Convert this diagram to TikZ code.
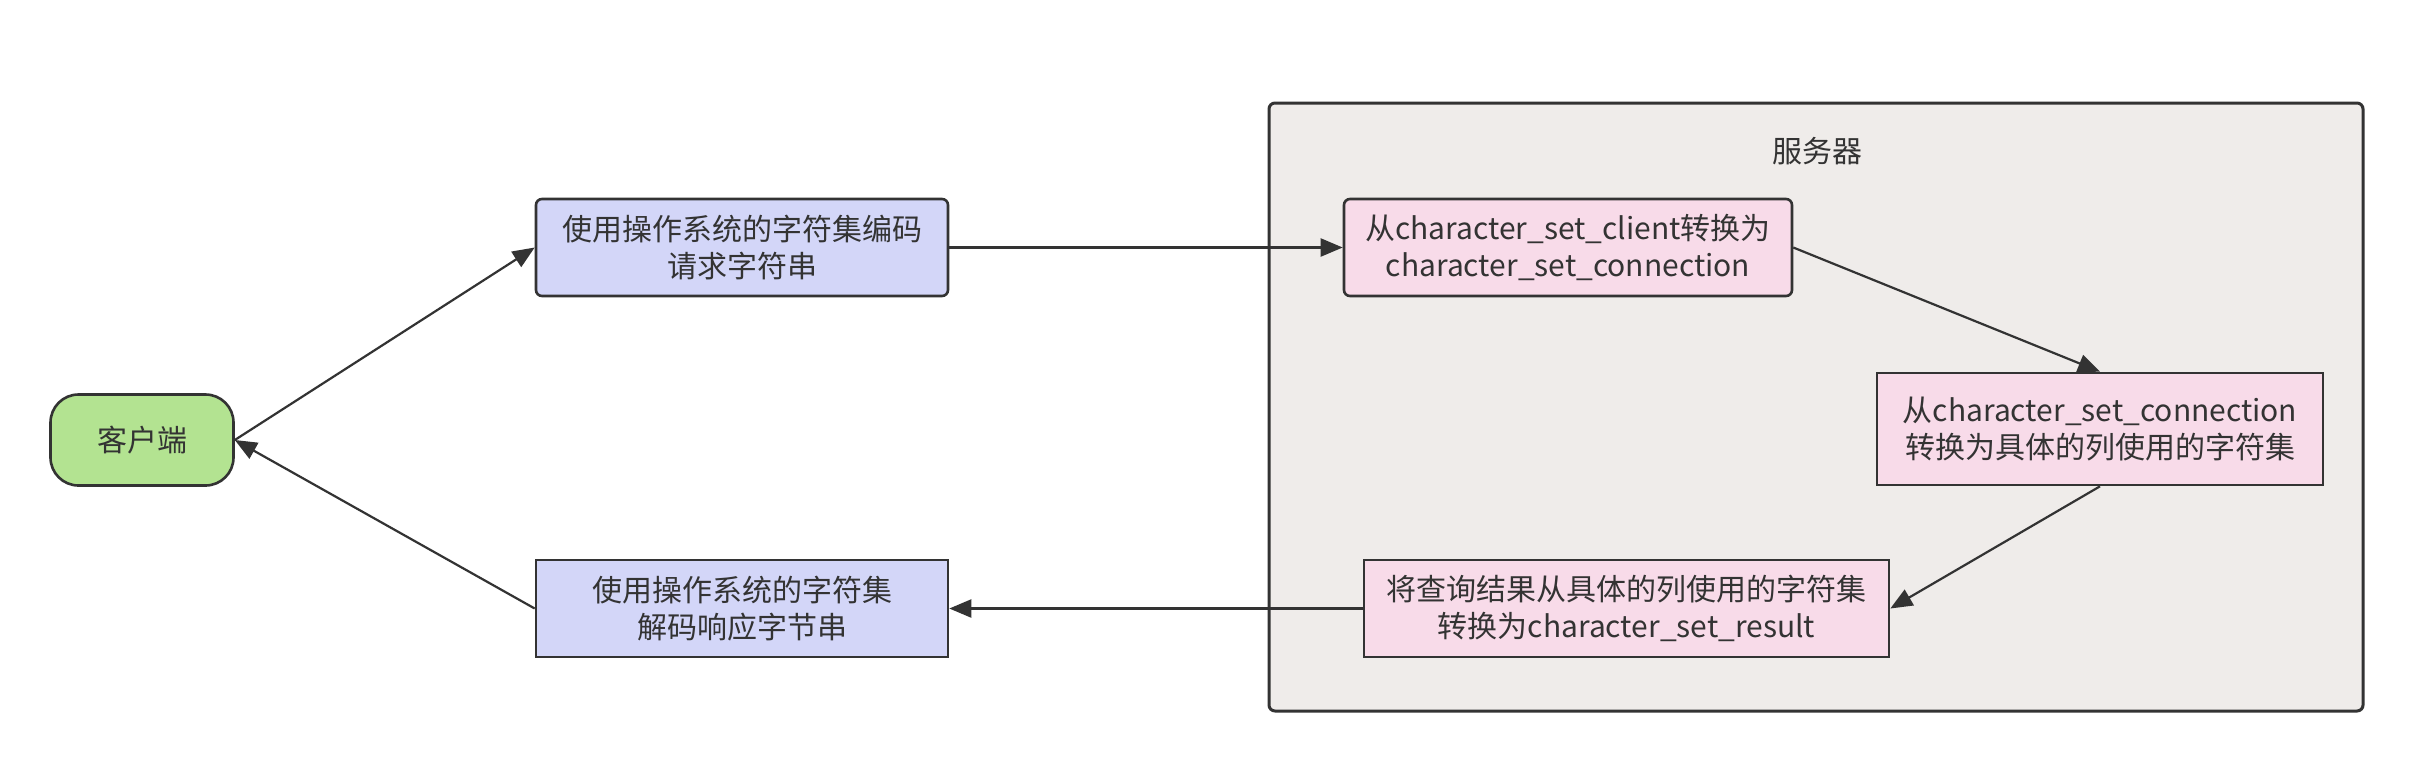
\documentclass[tikz,border=0pt]{standalone}
\usepackage{fontspec}
\setmainfont{Noto Sans CJK SC}
\usetikzlibrary{arrows.meta}
\definecolor{edgec}{HTML}{333333}
\definecolor{bluef}{HTML}{D3D6F8}
\definecolor{pinkf}{HTML}{F8DBE9}
\definecolor{greenf}{HTML}{B3E391}
\definecolor{serverf}{HTML}{EFECEA}
\tikzset{
  base/.style={draw=edgec, line width=1.3pt, align=center, font=\fontsize{15}{18.5}\selectfont, text=edgec, inner sep=0pt},
  bluebox/.style={base, fill=bluef},
  pinkbox/.style={base, fill=pinkf},
  clientbox/.style={base, fill=greenf, rounded corners=14pt},
  conn/.style={draw=edgec, line width=1.1pt, -{Triangle[length=11pt,width=9pt]}},
}
\begin{document}
\begin{tikzpicture}[x=0.5pt,y=-0.5pt]
\useasboundingbox (0,0) rectangle (2414,762);
\fill[white] (0,0) rectangle (2414,762);
\node[draw=edgec, line width=1.5pt, fill=serverf, rounded corners=3pt, minimum width=547pt, minimum height=304pt, inner sep=0pt] (server) at (1816,407) {};
\node[font=\fontsize{15}{18.5}\selectfont, text=edgec] (slabel) at (1817,151) {服务器};
\node[clientbox, minimum width=91.5pt, minimum height=45.5pt] (client) at (142,440) {客户端};
\node[bluebox, rounded corners=3pt, minimum width=206pt, minimum height=48.5pt] (b1) at (742,247.5) {使用操作系统的字符集编码\\请求字符串};
\node[bluebox, minimum width=206pt, minimum height=48.5pt] (b2) at (742,608.5) {使用操作系统的字符集\\解码响应字节串};
\node[pinkbox, rounded corners=3pt, minimum width=224pt, minimum height=48.5pt] (p1) at (1568,247.5) {从character\_set\_client转换为\\character\_set\_connection};
\node[pinkbox, minimum width=223pt, minimum height=56pt] (p2) at (2100,429) {从character\_set\_connection\\转换为具体的列使用的字符集};
\node[pinkbox, minimum width=262.5pt, minimum height=48.5pt] (p3) at (1626.5,608.5) {将查询结果从具体的列使用的字符集\\转换为character\_set\_result};
\draw[conn] (client.east) -- (b1.west);
\draw[conn] (b2.west) -- (client.east);
\draw[conn] (b1.east) -- (p1.west);
\draw[conn] (p1.east) -- (p2.north);
\draw[conn] (p2.south) -- (p3.east);
\draw[conn] (p3.west) -- (b2.east);
\end{tikzpicture}
\end{document}
